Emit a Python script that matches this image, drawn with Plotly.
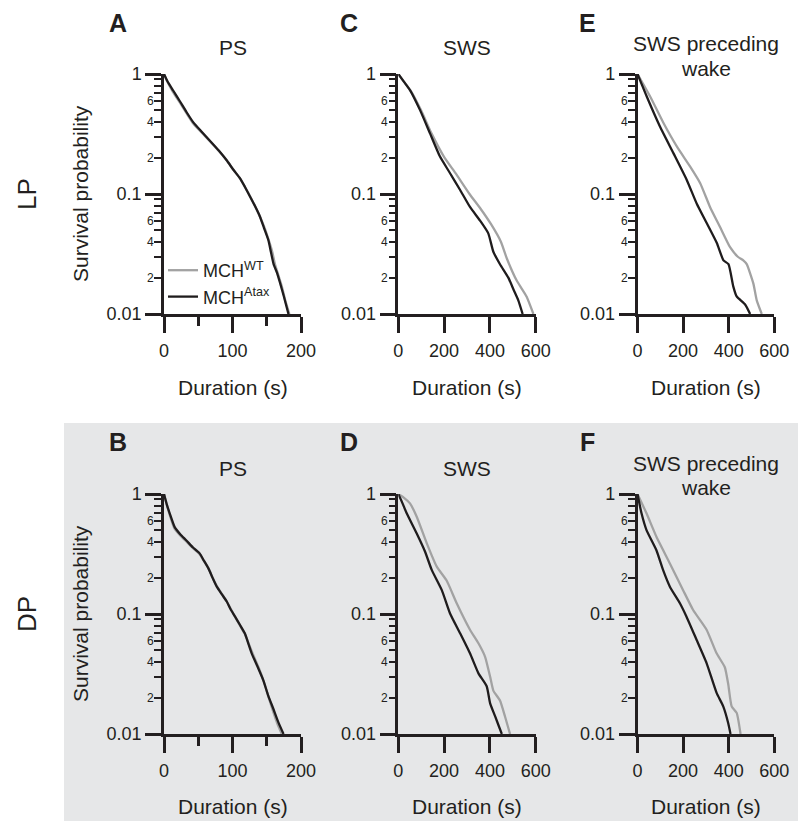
import numpy as np
import plotly.graph_objects as go

# ---------------- data ----------------
# A: PS, light phase
A_wt_x = [0, 5, 13, 23, 33, 43, 55, 67, 80, 92, 101, 111, 118, 126, 133, 140, 147, 153, 158, 162, 167, 172, 177, 183]
A_wt_y = [1, 0.86, 0.71, 0.58, 0.47, 0.385, 0.325, 0.275, 0.228, 0.19, 0.16, 0.135, 0.115, 0.095, 0.079, 0.065, 0.052, 0.041, 0.033, 0.026, 0.021, 0.017, 0.013, 0.01]
A_ax_x = [0, 5, 13.6, 23.4, 33, 42.8, 55, 67, 80, 91.7, 101, 111, 118, 125.7, 133, 140, 146, 152.5, 156, 160, 165, 169.6, 175, 181.7]
A_ax_y = [1, 0.87, 0.725, 0.59, 0.48, 0.395, 0.33, 0.278, 0.23, 0.19, 0.16, 0.135, 0.115, 0.095, 0.079, 0.065, 0.052, 0.041, 0.033, 0.026, 0.022, 0.018, 0.014, 0.01]

# C: SWS, light phase
C_wt_x = [0, 25, 55, 99, 145, 199, 250, 311, 360, 405, 448, 474, 517, 560, 590]
C_wt_y = [1, 0.86, 0.72, 0.5, 0.32, 0.205, 0.149, 0.1, 0.075, 0.056, 0.04, 0.029, 0.019, 0.014, 0.01]
C_ax_x = [0, 25, 51, 95, 138.5, 182, 226, 270, 313, 357, 393, 415, 444, 481, 503, 524, 543]
C_ax_y = [1, 0.86, 0.735, 0.5, 0.32, 0.205, 0.149, 0.108, 0.078, 0.06, 0.047, 0.033, 0.026, 0.02, 0.016, 0.013, 0.01]

# E: SWS preceding wake, light phase
E_wt_x = [0, 56, 114, 173, 231, 275, 318, 362, 406, 440, 464, 479, 508, 523, 545]
E_wt_y = [1, 0.646, 0.39, 0.248, 0.169, 0.123, 0.078, 0.053, 0.036, 0.03, 0.028, 0.026, 0.018, 0.013, 0.01]
E_ax_x = [0, 41, 99, 158, 216, 260, 304, 348, 377, 399, 420, 435, 472, 494]
E_ax_y = [1, 0.646, 0.363, 0.218, 0.131, 0.083, 0.057, 0.039, 0.028, 0.026, 0.017, 0.014, 0.012, 0.01]

# B: PS, dark phase
B_wt_x = [0, 4, 8, 15, 24, 33, 42, 52, 58, 65, 71, 78, 85, 92, 98, 104, 111, 118, 124, 130, 138, 146, 153, 160, 166, 172]
B_wt_y = [1, 0.82, 0.68, 0.52, 0.45, 0.4, 0.355, 0.315, 0.278, 0.24, 0.2, 0.168, 0.146, 0.126, 0.109, 0.094, 0.08, 0.068, 0.056, 0.046, 0.036, 0.027, 0.02, 0.015, 0.012, 0.01]
B_ax_x = [0, 4, 8.3, 15.6, 24, 32.7, 42, 52, 58, 64.8, 71, 77, 84, 91.6, 97, 103.8, 111, 118, 123, 128, 136, 145, 152, 160, 167, 174.5]
B_ax_y = [1, 0.82, 0.69, 0.53, 0.46, 0.41, 0.36, 0.32, 0.28, 0.24, 0.2, 0.169, 0.147, 0.127, 0.11, 0.095, 0.081, 0.069, 0.057, 0.047, 0.037, 0.028, 0.021, 0.016, 0.0125, 0.01]

# D: SWS, dark phase
D_wt_x = [0, 25, 51, 80, 124, 168, 211, 255, 313, 350, 379, 401, 415, 444, 466, 488]
D_wt_y = [1, 0.93, 0.836, 0.65, 0.39, 0.248, 0.19, 0.123, 0.074, 0.057, 0.044, 0.03, 0.023, 0.019, 0.014, 0.01]
D_ax_x = [0, 18, 36.7, 80, 117, 146, 190, 226, 270, 313, 350, 386, 401, 423, 440, 452]
D_ax_y = [1, 0.84, 0.69, 0.47, 0.33, 0.233, 0.158, 0.101, 0.069, 0.047, 0.032, 0.025, 0.018, 0.014, 0.0115, 0.01]

# F: SWS preceding wake, dark phase
F_wt_x = [0, 39.5, 83, 142, 200, 244, 303, 347, 383, 398, 413, 435, 452]
F_wt_y = [1, 0.69, 0.44, 0.264, 0.158, 0.108, 0.074, 0.047, 0.036, 0.026, 0.017, 0.015, 0.01]
F_ax_x = [0, 17.6, 39.5, 83, 112, 142, 186, 215, 259, 303, 347, 376, 398, 408]
F_ax_y = [1, 0.69, 0.5, 0.34, 0.233, 0.169, 0.123, 0.095, 0.061, 0.039, 0.022, 0.017, 0.0123, 0.01]

series_names = ["MCH<sup>WT</sup>", "MCH<sup>Atax</sup>"]
y_major = [0.01, 0.1, 1]
y_major_text = ["0.01", "0.1", "1"]
y_minor = [0.02, 0.03, 0.04, 0.05, 0.06, 0.07, 0.08, 0.09, 0.2, 0.3, 0.4, 0.5, 0.6, 0.7, 0.8, 0.9]
y_minor_labels = [0.6, 0.4, 0.2, 0.06, 0.04, 0.02]
y_minor_text = ["6", "4", "2", "6", "4", "2"]
ps_ticks = [0, 100, 200]
ps_minor = [50, 150]
sws_ticks = [0, 200, 400, 600]
row_names = ["LP", "DP"]

# ---------------- layout constants ----------------
PAGE_W, PAGE_H = 806, 821
OFF = 8  # default body margin of the html page
W, H = PAGE_W - OFF, PAGE_H - OFF
FONT = "Liberation Sans, Arial, Helvetica, sans-serif"
AX = "#231f20"
BLACK = "#1f1c1d"
GRAY = "#a2a2a2"
BG = "#e6e7e8"
col_px = [(164, 301), (398.3, 535.7), (637.5, 774.3)]
row_px = [(74, 314), (494, 734)]


def px(x):
    return (x - OFF) / W


def py(y):
    return 1 - (y - OFF) / H


panels = [
    dict(letter="A", title=["PS"], wt=(A_wt_x, A_wt_y), ax=(A_ax_x, A_ax_y), xr=200, xt=ps_ticks, xm=ps_minor, r=0, c=0),
    dict(letter="C", title=["SWS"], wt=(C_wt_x, C_wt_y), ax=(C_ax_x, C_ax_y), xr=600, xt=sws_ticks, xm=[], r=0, c=1),
    dict(letter="E", title=["SWS preceding", "wake"], wt=(E_wt_x, E_wt_y), ax=(E_ax_x, E_ax_y), xr=600, xt=sws_ticks, xm=[], r=0, c=2),
    dict(letter="B", title=["PS"], wt=(B_wt_x, B_wt_y), ax=(B_ax_x, B_ax_y), xr=200, xt=ps_ticks, xm=ps_minor, r=1, c=0),
    dict(letter="D", title=["SWS"], wt=(D_wt_x, D_wt_y), ax=(D_ax_x, D_ax_y), xr=600, xt=sws_ticks, xm=[], r=1, c=1),
    dict(letter="F", title=["SWS preceding", "wake"], wt=(F_wt_x, F_wt_y), ax=(F_ax_x, F_ax_y), xr=600, xt=sws_ticks, xm=[], r=1, c=2),
]
letter_x = [118, 349, 587]
letter_y = [23, 442]

fig = go.Figure()
annotations = []
layout_axes = {}

for i, p in enumerate(panels, start=1):
    sx = "" if i == 1 else str(i)
    xref, yref = "x" + sx, "y" + sx
    x0, x1 = col_px[p["c"]]
    y0, y1 = row_px[p["r"]]
    show = i == 1
    fig.add_trace(go.Scatter(x=p["wt"][0], y=p["wt"][1], mode="lines", name=series_names[0],
                             line=dict(color=GRAY, width=2.3, shape="spline", smoothing=0.5),
                             xaxis=xref, yaxis=yref, showlegend=show, legendgroup="wt"))
    fig.add_trace(go.Scatter(x=p["ax"][0], y=p["ax"][1], mode="lines", name=series_names[1],
                             line=dict(color=BLACK, width=2.3, shape="spline", smoothing=0.5),
                             xaxis=xref, yaxis=yref, showlegend=show, legendgroup="ax"))
    layout_axes["xaxis" + sx] = dict(
        domain=[px(x0), px(x1)], anchor=yref, range=[0, p["xr"]],
        showline=True, linecolor=AX, linewidth=2.5, showgrid=False, zeroline=False,
        tickmode="array", tickvals=p["xt"], ticks="outside", ticklen=16, tickwidth=2.5, tickcolor=AX,
        ticklabelstandoff=3,
        minor=dict(tickmode="array", tickvals=p["xm"], ticks="outside", ticklen=9, tickwidth=2.5, tickcolor=AX),
        tickfont=dict(family=FONT, size=18, color="#231f20"), fixedrange=True,
    )
    layout_axes["yaxis" + sx] = dict(
        domain=[py(y1), py(y0)], anchor=xref, type="log", range=[-2, 0],
        showline=True, linecolor=AX, linewidth=2.5, showgrid=False, zeroline=False,
        tickmode="array", tickvals=y_major, ticktext=y_major_text,
        ticks="outside", ticklen=16, tickwidth=2.5, tickcolor=AX,
        minor=dict(tickmode="array", tickvals=y_minor, ticks="outside", ticklen=7, tickwidth=2.2, tickcolor=AX),
        tickfont=dict(family=FONT, size=18, color="#231f20"), fixedrange=True,
    )
    # small minor-tick labels (6, 4, 2)
    for v, t in zip(y_minor_labels, y_minor_text):
        annotations.append(dict(text=t, xref=xref + " domain", x=0, yref=yref, y=float(np.log10(v)),
                                xanchor="right", yanchor="middle", xshift=-8, showarrow=False,
                                font=dict(family=FONT, size=12, color="#231f20")))
    cx = px((x0 + x1) / 2)
    # panel letter
    annotations.append(dict(text="<b>%s</b>" % p["letter"], xref="paper", yref="paper",
                            x=px(letter_x[p["c"]]), y=py(letter_y[p["r"]]),
                            xanchor="center", yanchor="middle", borderpad=0,
                            showarrow=False, font=dict(family=FONT, size=25, color="#231f20")))
    # panel title
    if len(p["title"]) == 1:
        annotations.append(dict(text=p["title"][0], xref="paper", yref="paper", x=cx,
                                y=py(47 if p["r"] == 0 else 468), xanchor="center", yanchor="middle",
                                showarrow=False, font=dict(family=FONT, size=21, color="#231f20")))
    else:
        base = 44 if p["r"] == 0 else 463
        for k, line in enumerate(p["title"]):
            annotations.append(dict(text=line, xref="paper", yref="paper", x=cx,
                                    y=py(base + 24 * k), xanchor="center", yanchor="middle",
                                    showarrow=False, font=dict(family=FONT, size=21, color="#231f20")))
    # x-axis title
    annotations.append(dict(text="Duration (s)", xref="paper", yref="paper", x=cx,
                            y=py(387 if p["r"] == 0 else 806), xanchor="center", yanchor="middle",
                            showarrow=False, font=dict(family=FONT, size=21, color="#231f20")))

for r, name in enumerate(row_names):
    yc = (row_px[r][0] + row_px[r][1]) / 2
    annotations.append(dict(text="Survival probability", xref="paper", yref="paper", x=px(80), y=py(yc),
                            textangle=-90, xanchor="center", yanchor="middle", showarrow=False,
                            font=dict(family=FONT, size=21, color="#231f20")))
    annotations.append(dict(text=name, xref="paper", yref="paper", x=px(27), y=py(yc),
                            textangle=-90, xanchor="center", yanchor="middle", showarrow=False,
                            font=dict(family=FONT, size=26, color="#231f20")))

fig.update_layout(
    width=W, height=H, margin=dict(l=0, r=0, t=0, b=0, autoexpand=False),
    paper_bgcolor="white", plot_bgcolor="rgba(0,0,0,0)",
    font=dict(family=FONT, color="#231f20"),
    showlegend=True,
    legend=dict(x=px(163), y=py(252), xanchor="left", yanchor="top", bgcolor="rgba(0,0,0,0)",
                font=dict(family=FONT, size=18, color="#231f20"), itemwidth=30,
                tracegroupgap=0, borderwidth=0),
    annotations=annotations,
    shapes=[dict(type="rect", xref="paper", yref="paper", x0=px(64), x1=1, y0=0, y1=py(423),
                 fillcolor=BG, line=dict(width=0), layer="below")],
    **layout_axes,
)

fig.write_html("out.html")
